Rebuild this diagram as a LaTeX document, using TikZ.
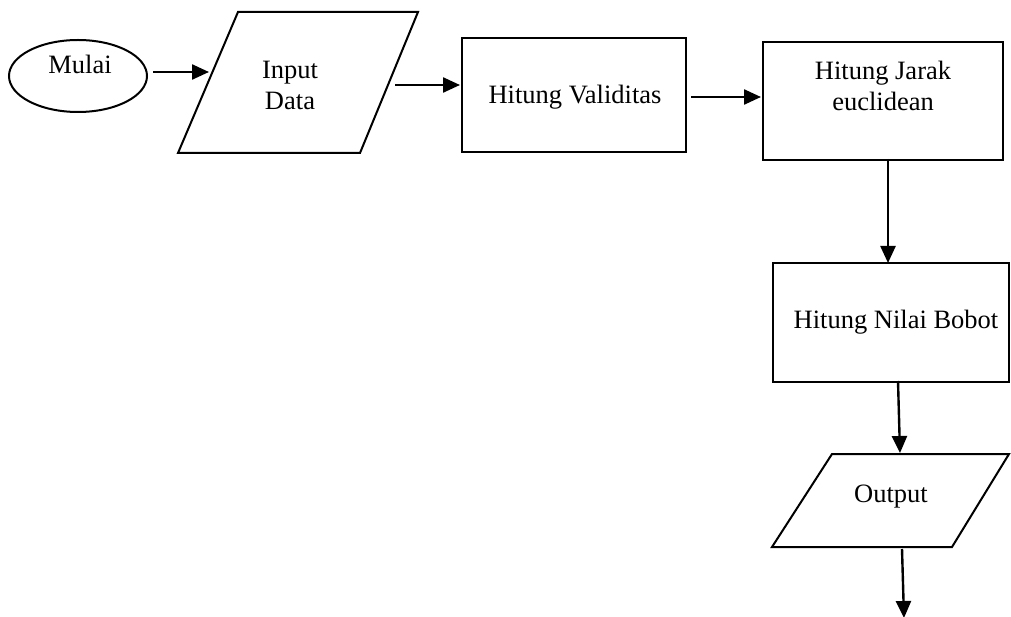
\documentclass[tikz,border=0pt]{standalone}
\usepackage{fontspec}
\setmainfont{Liberation Serif}
\usetikzlibrary{arrows.meta,shapes.geometric}
\tikzset{
  shp/.style={draw=black, line width=2pt},
  boxnode/.style={shp, rectangle, inner sep=0pt},
  txt/.style={align=center, inner sep=0pt, font=\fontsize{26.5}{31}\selectfont},
  arr/.style={line width=2.4pt, -{Triangle[length=17pt,width=15pt]}},
}
\begin{document}
\begin{tikzpicture}[x=1pt,y=-1pt]
\useasboundingbox (0,0) rectangle (1011,617);
% start
\node[shp, ellipse, minimum width=138pt, minimum height=72pt, inner sep=0pt] (start) at (78,76) {};
\node[txt] (startT) at (80,64) {Mulai};
% input parallelogram
\draw[shp] (238,12) -- (418,12) -- (360,153) -- (178,153) -- cycle;
\node[txt] (inT) at (290,85) {Input\\Data};
\coordinate (inL) at (209,72);
\coordinate (inR) at (395,85);
% boxes
\node[boxnode, minimum width=224pt, minimum height=114pt] (val) at (574,95) {};
\node[txt] (valT) at (575,97) {Hitung Validitas};
\node[boxnode, minimum width=240pt, minimum height=118pt] (jarak) at (883,101) {};
\node[txt] (jarakT) at (883,86) {Hitung Jarak\\euclidean};
\node[boxnode, minimum width=236pt, minimum height=119pt] (bobot) at (891,322.5) {};
\node[txt] (bobotT) at (896,322) {Hitung Nilai Bobot};
% output parallelogram
\draw[shp] (832,454) -- (1009,454) -- (952,547) -- (772,547) -- cycle;
\node[txt] (outT) at (891,497) {Output};
\coordinate (outTop) at (900,453);
\coordinate (outBot) at (902,549);
\coordinate (endpt) at (904,618);
% connectors
\draw[arr] ([xshift=5pt]start.east |- inL) -- (inL);
\draw[arr] (inR) -- ([xshift=-1pt]val.west |- inR);
\draw[arr] ([xshift=4pt]val.east |- 0,97) -- ([xshift=-1pt]jarak.west |- 0,97);
\draw[arr] ([yshift=2pt]jarak.south -| 888,0) -- ([yshift=-1pt]bobot.north -| 888,0);
\draw[arr] ([yshift=2pt]bobot.south -| 898,0) -- (outTop);
\draw[arr] (outBot) -- (endpt);
\end{tikzpicture}
\end{document}
